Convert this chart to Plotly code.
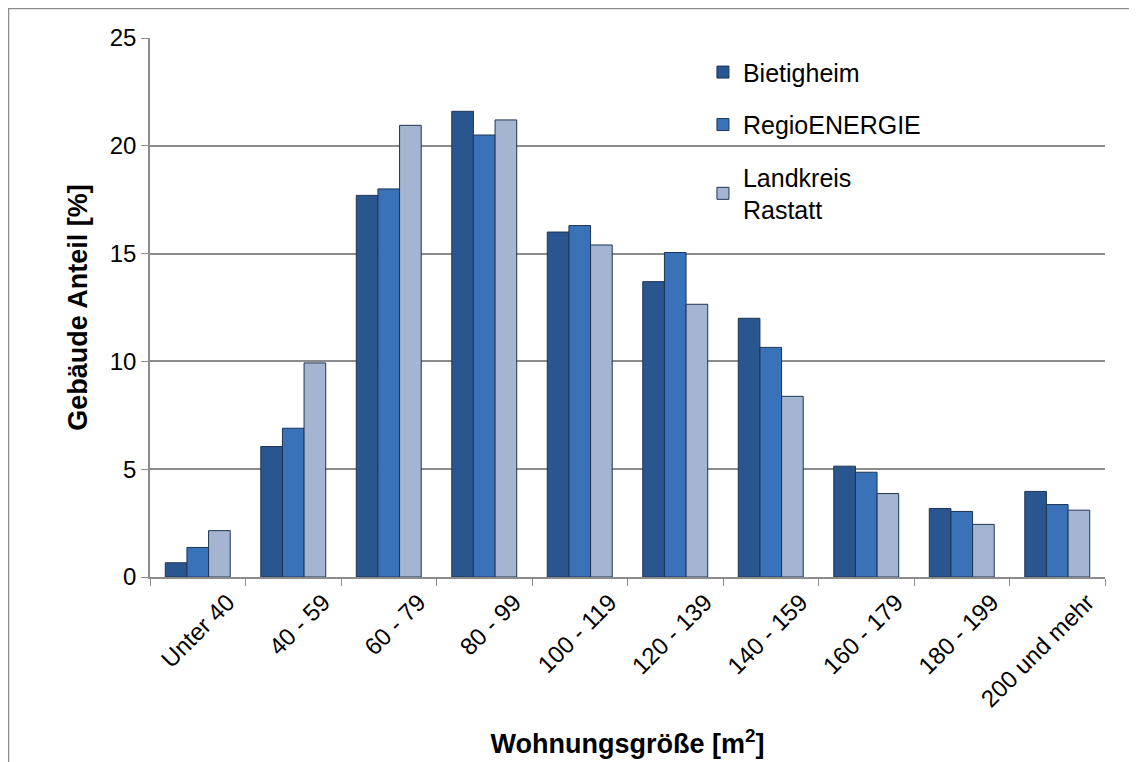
import plotly.graph_objects as go

categories = ["Unter 40", "40 - 59", "60 - 79", "80 - 99", "100 - 119", "120 - 139",
              "140 - 159", "160 - 179", "180 - 199", "200 und mehr"]
bietigheim = [0.66, 6.05, 17.7, 21.6, 16.0, 13.7, 12.0, 5.14, 3.18, 3.97]
regioenergie = [1.37, 6.9, 18.0, 20.5, 16.3, 15.05, 10.65, 4.86, 3.04, 3.36]
landkreis = [2.15, 9.93, 20.95, 21.2, 15.4, 12.65, 8.38, 3.87, 2.44, 3.1]
series_names = ["Bietigheim", "RegioENERGIE", "Landkreis<br>Rastatt"]
yticks = [0, 5, 10, 15, 20, 25]

# page has an 8px body margin; size the figure so the plot area lands where the reference has it
W, H = 1129, 754
ml, mr, mt, mb = 142, 32, 30, 185
pw = W - ml - mr
ph = H - mt - mb

fig = go.Figure()
colors = ["#2A5690", "#3972B8", "#A4B4D1"]
for i, (name, vals, c) in enumerate(zip(series_names, [bietigheim, regioenergie, landkreis], colors)):
    fig.add_trace(go.Bar(
        x=categories, y=vals, name=name, legendgroup="g%d" % i,
        marker=dict(color=c, line=dict(color="#1E3454", width=1)),
    ))

# outer chart border
fig.add_shape(type="rect", xref="paper", yref="paper",
              x0=-(ml - 0.5) / pw, x1=1 + (mr - 4) / pw,
              y0=-(mb + 20) / ph, y1=1 + (mt - 0.5) / ph,
              line=dict(color="#8C8C8C", width=1.5), layer="below")

fig.update_layout(
    width=W, height=H,
    margin=dict(l=ml, r=mr, t=mt, b=mb),
    paper_bgcolor="white", plot_bgcolor="white",
    font=dict(family="Liberation Sans, Arial, sans-serif", size=24, color="black"),
    barmode="group", bargap=0.32, bargroupgap=0,
    showlegend=True,
    legend=dict(x=0.579, y=0.979, xanchor="left", yanchor="top",
                font=dict(size=25), tracegroupgap=17, itemwidth=30,
                bgcolor="rgba(0,0,0,0)"),
    xaxis=dict(
        type="category", tickangle=-45, tickson="boundaries", automargin=False,
        ticks="outside", ticklen=7, tickcolor="#8C8C8C",
        showline=True, linecolor="#8C8C8C", linewidth=1.5,
        tickfont=dict(size=24), ticklabelshift=30,
        title=dict(text="<b>Wohnungsgröße [m<sup>2</sup>]</b>", font=dict(size=27), standoff=23),
    ),
    yaxis=dict(
        range=[0, 25], tickvals=yticks, ticks="outside", ticklen=7, tickcolor="#8C8C8C",
        showline=True, linecolor="#8C8C8C", linewidth=1.5, automargin=False,
        showgrid=True, gridcolor="#8C8C8C", gridwidth=1.5,
        tickfont=dict(size=24), zeroline=False,
        title=dict(text="<b>Gebäude Anteil [%]</b>", font=dict(size=27), standoff=14),
    ),
)

fig.write_html("out.html")
